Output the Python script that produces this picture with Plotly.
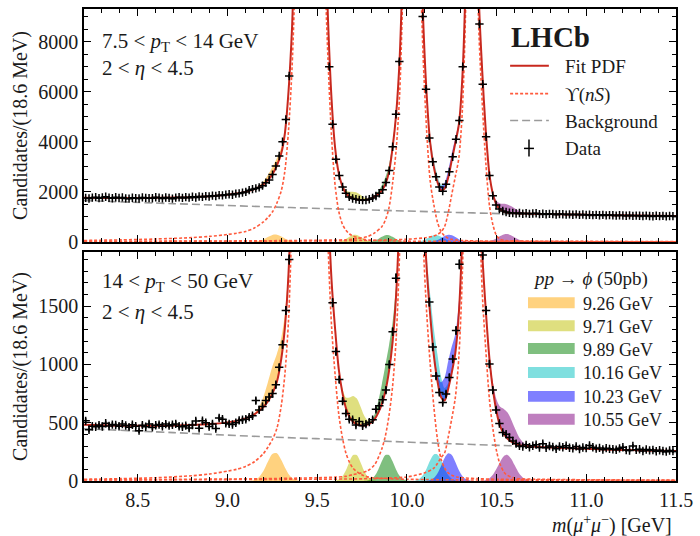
import numpy as np
import plotly.graph_objects as go

# ---------------- data ----------------
BIN_LO = 8.2          # GeV
BIN_W = 0.0186        # GeV (18.6 MeV bins)
N_BINS = 177

X_FIT = [8.20, 8.30, 8.40, 8.50, 8.60, 8.70, 8.80, 8.90, 9.00, 9.05, 9.10, 9.125, 9.15, 9.175,
         9.20, 9.225, 9.25, 9.275, 9.30, 9.32, 9.34, 9.36, 9.38, 9.40, 9.43, 9.46, 9.49, 9.52,
         9.54, 9.56, 9.58, 9.60, 9.62, 9.64, 9.66, 9.68, 9.70, 9.72, 9.74, 9.76, 9.78, 9.80,
         9.82, 9.84, 9.86, 9.88, 9.90, 9.92, 9.94, 9.96, 9.98, 10.00, 10.025, 10.05, 10.07, 10.09,
         10.11, 10.13, 10.15, 10.17, 10.19, 10.21, 10.23, 10.25, 10.27, 10.29, 10.31, 10.33, 10.355,
         10.38, 10.40, 10.42, 10.44, 10.46, 10.48, 10.50, 10.52, 10.54, 10.56, 10.58, 10.60, 10.63,
         10.66, 10.70, 10.80, 10.90, 11.00, 11.10, 11.20, 11.30, 11.40, 11.50]

FIT_TOP = [1765, 1760, 1757, 1757, 1762, 1772, 1790, 1830, 1890, 1935, 2000, 2050, 2110, 2195,
           2300, 2470, 2700, 3050, 3550, 4350, 6000, 8600, 13000, 19000, 40000, 60000, 40000, 20000,
           13500, 8900, 5700, 3750, 2750, 2230, 1950, 1800, 1730, 1695, 1678, 1672, 1690, 1730,
           1810, 1910, 2050, 2310, 2790, 3760, 5100, 7400, 12500, 25000, 35000, 25000, 14000, 9000,
           5900, 3950, 3000, 2400, 2070, 2130, 2570, 3260, 3960, 4710, 6700, 11500, 30000,
           19000, 9900, 6800, 4400, 2700, 1900, 1480, 1300, 1220, 1180, 1160, 1150, 1142,
           1136, 1130, 1115, 1100, 1087, 1075, 1064, 1054, 1045, 1037]

FIT_BOT = [482, 478, 475, 473, 474, 476, 480, 488, 503, 516, 537, 552, 572, 600,
           635, 683, 750, 850, 1050, 1320, 1780, 2700, 4200, 6500, 12000, 18000, 12000, 7000,
           3900, 2450, 1720, 1300, 960, 760, 625, 550, 508, 487, 478, 475, 484, 500,
           530, 585, 660, 770, 940, 1190, 1600, 2380, 3900, 7400, 10500, 7400, 4100, 2500,
           1830, 1420, 1080, 860, 720, 690, 790, 930, 1100, 1450, 2200, 4000, 9400,
           5500, 3000, 1960, 1460, 1050, 780, 590, 470, 405, 365, 340, 322, 308,
           300, 295, 287, 281, 276, 271, 267, 263, 260, 258]

BKG_X = [8.2, 8.7, 9.2, 9.7, 10.2, 10.7, 11.1, 11.5]
BKG_TOP = [1655, 1530, 1410, 1300, 1195, 1100, 1040, 995]
BKG_BOT = [448, 415, 380, 352, 322, 296, 270, 245]

X_U1 = [8.20, 8.40, 8.60, 8.80, 8.90, 9.00, 9.05, 9.10, 9.15, 9.20, 9.225, 9.25, 9.275, 9.30,
        9.32, 9.34, 9.36, 9.38, 9.40, 9.43, 9.46, 9.49, 9.52, 9.54, 9.56, 9.58, 9.60, 9.62,
        9.64, 9.66, 9.68, 9.70, 9.73, 9.76, 9.80, 9.90, 10.0, 10.2, 10.5, 11.0, 11.5]
U1_TOP = [60, 85, 120, 175, 225, 300, 350, 420, 560, 800, 980, 1200, 1550, 2050,
          2850, 4450, 7000, 11300, 17000, 38000, 58000, 38000, 18000, 11500, 7300, 4200, 2250, 1230,
          720, 470, 320, 240, 165, 110, 70, 45, 35, 25, 18, 12, 9]
U1_BOT = [15, 20, 28, 45, 60, 85, 100, 125, 165, 235, 290, 355, 450, 650,
          920, 1380, 2300, 3800, 6100, 11600, 17600, 11600, 6600, 3500, 2050, 1330, 910, 575,
          375, 240, 160, 110, 70, 45, 30, 20, 15, 11, 8, 6, 4]

X_U2 = [8.20, 8.60, 9.00, 9.20, 9.40, 9.50, 9.60, 9.66, 9.70, 9.74, 9.78, 9.82, 9.86, 9.88,
        9.90, 9.92, 9.94, 9.96, 9.98, 10.00, 10.025, 10.05, 10.07, 10.09, 10.11, 10.13, 10.15,
        10.17, 10.19, 10.21, 10.23, 10.25, 10.28, 10.32, 10.40, 10.50, 10.70, 11.00, 11.50]
U2_TOP = [25, 32, 42, 50, 62, 70, 80, 90, 110, 160, 216, 363, 614, 877,
          1363, 2335, 3686, 5980, 11080, 23000, 33000, 23000, 12500, 7500, 4450, 2420, 1490,
          800, 420, 250, 150, 105, 75, 55, 40, 30, 22, 16, 11]
U2_BOT = [10, 13, 17, 20, 25, 28, 33, 40, 55, 67, 87, 140, 275, 386,
          559, 810, 1220, 2000, 3500, 7000, 10000, 7000, 3700, 2100, 1450, 1000, 640,
          360, 190, 110, 70, 50, 35, 27, 20, 15, 11, 8, 5]

X_U3 = [8.20, 8.80, 9.40, 9.80, 10.00, 10.10, 10.15, 10.17, 10.19, 10.21, 10.23, 10.25, 10.27,
        10.29, 10.31, 10.33, 10.355, 10.38, 10.40, 10.42, 10.44, 10.46, 10.48, 10.50, 10.52,
        10.55, 10.60, 10.70, 10.90, 11.20, 11.50]
U3_TOP = [20, 27, 38, 65, 110, 170, 240, 300, 400, 614, 1158, 1897, 2618,
          3382, 5394, 10200, 28500, 17700, 8640, 5550, 3150, 1460, 670, 250, 110,
          60, 45, 35, 27, 20, 16]
U3_BOT = [8, 11, 15, 20, 35, 70, 110, 150, 200, 240, 375, 535, 717,
          1075, 1830, 3630, 9000, 5150, 2650, 1620, 1120, 700, 440, 255, 140,
          60, 25, 16, 12, 9, 7]

SIG_LABELS = ["9.26 GeV", "9.71 GeV", "9.89 GeV", "10.16 GeV", "10.23 GeV", "10.55 GeV"]
SIG_X = [
    [9.10, 9.125, 9.15, 9.175, 9.20, 9.225, 9.25, 9.275, 9.30, 9.32, 9.34, 9.36, 9.38, 9.40],
    [9.56, 9.58, 9.60, 9.62, 9.64, 9.66, 9.68, 9.70, 9.72, 9.74, 9.76, 9.78, 9.80, 9.82, 9.84, 9.86],
    [9.74, 9.76, 9.78, 9.80, 9.82, 9.84, 9.86, 9.88, 9.90, 9.92, 9.94, 9.96, 9.98, 10.00, 10.025, 10.05],
    [10.00, 10.025, 10.05, 10.07, 10.09, 10.11, 10.13, 10.15, 10.17, 10.19, 10.21, 10.23, 10.25, 10.27, 10.29, 10.31],
    [10.07, 10.09, 10.11, 10.13, 10.15, 10.17, 10.19, 10.21, 10.23, 10.25, 10.27, 10.29, 10.31, 10.33, 10.355, 10.38, 10.40],
    [10.38, 10.40, 10.42, 10.44, 10.46, 10.48, 10.50, 10.52, 10.54, 10.56, 10.58, 10.60, 10.63, 10.66, 10.70, 10.80],
]
SIG_TOP = [
    [0, 2, 11, 40, 105, 200, 284, 293, 222, 142, 75, 32, 11, 4],
    [0, 0, 4, 15, 48, 116, 209, 280, 280, 209, 116, 48, 15, 4, 0, 0],
    [0, 1, 5, 17, 51, 118, 206, 272, 272, 206, 118, 51, 17, 5, 1, 0],
    [0, 1, 6, 22, 60, 128, 211, 271, 271, 211, 128, 60, 22, 6, 1, 0],
    [0, 0, 2, 9, 30, 77, 154, 239, 288, 270, 198, 113, 50, 17, 3, 0, 0],
    [0, 1, 4, 12, 35, 80, 152, 236, 303, 318, 274, 194, 80, 21, 2, 0],
]
SIG_BOT = [
    [0, 2, 9, 33, 86, 165, 232, 239, 181, 116, 61, 26, 9, 3],
    [0, 0, 3, 12, 38, 92, 166, 222, 222, 166, 92, 38, 12, 3, 0, 0],
    [0, 1, 4, 14, 42, 97, 169, 223, 223, 169, 97, 42, 14, 4, 1, 0],
    [0, 1, 5, 19, 51, 108, 177, 228, 228, 177, 108, 51, 19, 5, 1, 0],
    [0, 0, 2, 8, 25, 64, 127, 198, 238, 224, 164, 93, 41, 14, 3, 0, 0],
    [0, 1, 2, 9, 24, 56, 107, 166, 213, 224, 193, 137, 56, 15, 1, 0],
]

DATA_TOP = [
    1760, 1735, 1770, 1790, 1750, 1775, 1805, 1765, 1745, 1785,
    1755, 1780, 1740, 1730, 1765, 1745, 1735, 1780, 1760, 1750,
    1745, 1785, 1765, 1740, 1775, 1760, 1730, 1770, 1785, 1760,
    1790, 1770, 1805, 1775, 1815, 1800, 1830, 1815, 1850, 1835,
    1870, 1860, 1890, 1905, 1885, 1930, 1940, 1970, 2000, 2070,
    2110, 2140, 2180, 2250, 2370, 2480, 2690, 3030, 3430, 4000,
    4890, 6627, 9800, 14000, 20000, 31000, 46000, 59000, 56000, 42000,
    27000, 17000, 11500, 7000, 4700, 3300, 2650, 2200, 1950, 1800,
    1735, 1705, 1680, 1670, 1675, 1705, 1760, 1835, 1945, 2090,
    2380, 2850, 3800, 5100, 7200, 11500, 22000, 33000, 32000, 22000,
    13500, 9000, 6100, 4150, 3200, 2600, 2200, 2030, 2310, 2800,
    3400, 4100, 4850, 7000, 11800, 25000, 26000, 15000, 8700, 6300,
    4200, 2650, 1850, 1480, 1320, 1240, 1195, 1165, 1160, 1140,
    1155, 1130, 1145, 1125, 1140, 1145, 1115, 1130, 1110, 1125,
    1120, 1100, 1115, 1110, 1095, 1105, 1090, 1105, 1085, 1100,
    1080, 1090, 1075, 1085, 1070, 1085, 1065, 1075, 1070, 1055,
    1070, 1060, 1050, 1065, 1045, 1055, 1050, 1040, 1055, 1040,
    1030, 1050, 1035, 1045, 1025, 1040, 1035]

DATA_BOT = [
    516, 440, 470, 465, 478, 468, 495, 472, 484, 480,
    470, 488, 476, 462, 482, 470, 432, 479, 466, 490,
    460, 478, 484, 470, 488, 475, 482, 490, 470, 465,
    475, 455, 480, 515, 452, 517, 500, 468, 490, 450,
    540, 530, 495, 490, 485, 500, 520, 525, 530, 548,
    560, 690, 610, 640, 690, 720, 751, 826, 975, 1170,
    1463, 1900, 3000, 4800, 7000, 11000, 16000, 18000, 14000, 9000,
    6000, 4200, 2900, 2150, 1530, 1110, 870, 685, 580, 530,
    525, 480, 510, 473, 488, 505, 525, 615, 645, 697,
    780, 1000, 1280, 1740, 2500, 4000, 8000, 10500, 9500, 6500,
    4000, 2300, 2000, 1535, 1150, 900, 760, 674, 746, 889,
    1047, 1291, 1859, 2400, 4500, 9000, 8000, 4000, 2500, 1940,
    1463, 1004, 780, 610, 493, 416, 402, 373, 344, 321,
    301, 295, 310, 290, 302, 312, 288, 320, 285, 300,
    292, 276, 296, 290, 302, 285, 280, 297, 274, 288,
    282, 305, 290, 278, 284, 270, 282, 276, 272, 268,
    280, 290, 265, 262, 300, 268, 272, 258, 270, 263,
    266, 255, 264, 258, 252, 262, 256]

# ---------------- styles ----------------
FONT = "Liberation Serif"
TXT = "#1a1a1a"
RED = "#c8281e"
DOT = "#ff5a3c"
GREY = "#9a9a9a"
SIG_COLORS = ["rgba(255,165,0,0.5)", "rgba(191,191,0,0.5)", "rgba(0,128,0,0.5)",
              "rgba(0,191,191,0.5)", "rgba(0,0,255,0.5)", "rgba(128,0,128,0.5)"]

L, R, T, B = 84, 20, 7, 55
W, H = 700, 536
PW, PH = W - L - R, H - T - B


def px_x(px):
    return (px - L) / PW


def px_y(py):
    return (H - B - py) / PH


bins = BIN_LO + BIN_W * (np.arange(N_BINS) + 0.5)
fit_index = {round(x, 3): i for i, x in enumerate(X_FIT)}

fig = go.Figure()


def add_panel(xa, ya, fit, bkg, u1, u2, u3, sigs, data):
    for sx, sv, col in zip(SIG_X, sigs, SIG_COLORS):
        fig.add_trace(go.Scatter(x=sx, y=sv, xaxis=xa, yaxis=ya, mode="lines",
                                 line=dict(width=0, shape="spline", smoothing=0.8),
                                 fill="tozeroy", fillcolor=col, hoverinfo="skip"))
    for sx, sv, col in zip(SIG_X, sigs, SIG_COLORS):
        base = [fit[fit_index[round(x, 3)]] for x in sx]
        top = [b + v for b, v in zip(base, sv)]
        fig.add_trace(go.Scatter(x=sx, y=base, xaxis=xa, yaxis=ya, mode="lines",
                                 line=dict(width=0, shape="spline", smoothing=0.8),
                                 hoverinfo="skip"))
        fig.add_trace(go.Scatter(x=sx, y=top, xaxis=xa, yaxis=ya, mode="lines",
                                 line=dict(width=0, shape="spline", smoothing=0.8),
                                 fill="tonexty", fillcolor=col, hoverinfo="skip"))
    fig.add_trace(go.Scatter(x=BKG_X, y=bkg, xaxis=xa, yaxis=ya, mode="lines",
                             line=dict(color=GREY, width=1.6, dash="8px,4px", shape="spline")))
    for xu, yu in ((X_U1, u1), (X_U2, u2), (X_U3, u3)):
        fig.add_trace(go.Scatter(x=xu, y=yu, xaxis=xa, yaxis=ya, mode="lines",
                                 line=dict(color=DOT, width=1.6, dash="3px,2px",
                                           shape="spline", smoothing=0.8)))
    fig.add_trace(go.Scatter(x=X_FIT, y=fit, xaxis=xa, yaxis=ya, mode="lines",
                             line=dict(color=RED, width=2, shape="spline", smoothing=0.8)))
    fig.add_trace(go.Scatter(x=bins, y=data, xaxis=xa, yaxis=ya, mode="markers",
                             marker=dict(symbol="cross-thin", size=6, color="black",
                                         line=dict(color="black", width=1.5)),
                             error_y=dict(type="sqrt", color="black", thickness=1.5, width=0)))


add_panel("x", "y", FIT_TOP, BKG_TOP, U1_TOP, U2_TOP, U3_TOP, SIG_TOP, DATA_TOP)
add_panel("x2", "y2", FIT_BOT, BKG_BOT, U1_BOT, U2_BOT, U3_BOT, SIG_BOT, DATA_BOT)

y_split_top = px_y(241)
y_split_bot = px_y(251)

TICKFONT = dict(family=FONT, size=20, color=TXT)
common = dict(showline=True, linecolor="black", linewidth=1.5, mirror="allticks",
              ticks="inside", ticklen=7, tickwidth=1.3, tickcolor="black",
              showgrid=False, zeroline=False)
minor_x = dict(dtick=0.1, ticks="inside", ticklen=4, tickwidth=1, tickcolor="black")

fig.update_layout(
    width=W, height=H, margin=dict(l=L, r=R, t=T, b=B),
    plot_bgcolor="white", paper_bgcolor="white", showlegend=False,
    font=dict(family=FONT, size=20, color=TXT),
    xaxis=dict(range=[8.2, 11.5], domain=[0, 1], anchor="y", tick0=0, dtick=0.5,
               showticklabels=False, minor=minor_x, tickfont=TICKFONT, **common),
    yaxis=dict(range=[0, 9300], domain=[y_split_top, 1], anchor="x", tick0=0, dtick=2000,
               minor=dict(dtick=500, ticks="inside", ticklen=4, tickwidth=1, tickcolor="black"),
               tickfont=TICKFONT, **common),
    xaxis2=dict(range=[8.2, 11.5], domain=[0, 1], anchor="y2", tick0=0, dtick=0.5,
                tickformat=".1f", minor=minor_x, tickfont=TICKFONT, **common),
    yaxis2=dict(range=[0, 1965], domain=[0, y_split_bot], anchor="x2", tick0=0, dtick=500,
                minor=dict(dtick=100, ticks="inside", ticklen=4, tickwidth=1, tickcolor="black"),
                tickfont=TICKFONT, **common),
)

ann = []


def text(s, px, py, size=20, xanchor="left", angle=0, bold=False):
    ann.append(dict(text=("<b>%s</b>" % s) if bold else s, x=px_x(px), y=px_y(py),
                    xref="paper", yref="paper", xanchor=xanchor, yanchor="middle",
                    textangle=angle, showarrow=False,
                    font=dict(family=FONT, size=size, color=TXT)))


text("7.5 &lt; <i>p</i><sub>T</sub> &lt; 14 GeV", 100, 40, size=21)
text("2 &lt; <i>η</i> &lt; 4.5", 100, 66, size=21)
text("14 &lt; <i>p</i><sub>T</sub> &lt; 50 GeV", 100, 281, size=21)
text("2 &lt; <i>η</i> &lt; 4.5", 100, 311, size=21)
text("LHCb", 512, 35, size=29, bold=True)
text("Candidates/(18.6 MeV)", 20, 124, size=20, xanchor="center", angle=-90)
text("Candidates/(18.6 MeV)", 20, 366, size=20, xanchor="center", angle=-90)
text("<i>m</i>(<i>μ</i><sup>+</sup><i>μ</i><sup>−</sup>) [GeV]", 678, 525, size=20,
     xanchor="right")

shapes = []
leg_rows = [64, 92, 119, 146]
for py, lab in zip(leg_rows, ["Fit PDF", "ϒ(<i>nS</i>)", "Background", "Data"]):
    text(lab, 566, py + 1, size=19)
shapes.append(dict(type="line", xref="paper", yref="paper", x0=px_x(513), x1=px_x(552),
                   y0=px_y(64), y1=px_y(64), line=dict(color=RED, width=2)))
shapes.append(dict(type="line", xref="paper", yref="paper", x0=px_x(513), x1=px_x(552),
                   y0=px_y(92), y1=px_y(92), line=dict(color=DOT, width=1.6, dash="3px,2px")))
shapes.append(dict(type="line", xref="paper", yref="paper", x0=px_x(513), x1=px_x(552),
                   y0=px_y(119), y1=px_y(119), line=dict(color=GREY, width=1.6, dash="8px,4px")))
shapes.append(dict(type="line", xref="paper", yref="paper", x0=px_x(532), x1=px_x(532),
                   y0=px_y(138), y1=px_y(155), line=dict(color="black", width=1.5)))
shapes.append(dict(type="line", xref="paper", yref="paper", x0=px_x(527), x1=px_x(537),
                   y0=px_y(147), y1=px_y(147), line=dict(color="black", width=1.5)))

text("<i>pp</i> → <i>ϕ</i> (50pb)", 594, 278, size=19, xanchor="center")
sig_rows = [302, 325, 348, 372, 396, 419]
for py, lab, col in zip(sig_rows, SIG_LABELS, SIG_COLORS):
    shapes.append(dict(type="rect", xref="paper", yref="paper", x0=px_x(531), x1=px_x(578),
                       y0=px_y(py + 5.5), y1=px_y(py - 5.5), fillcolor=col, line=dict(width=0)))
    text(lab, 584, py + 1, size=18)

fig.update_layout(annotations=ann, shapes=shapes)
fig.write_html("out.html")
